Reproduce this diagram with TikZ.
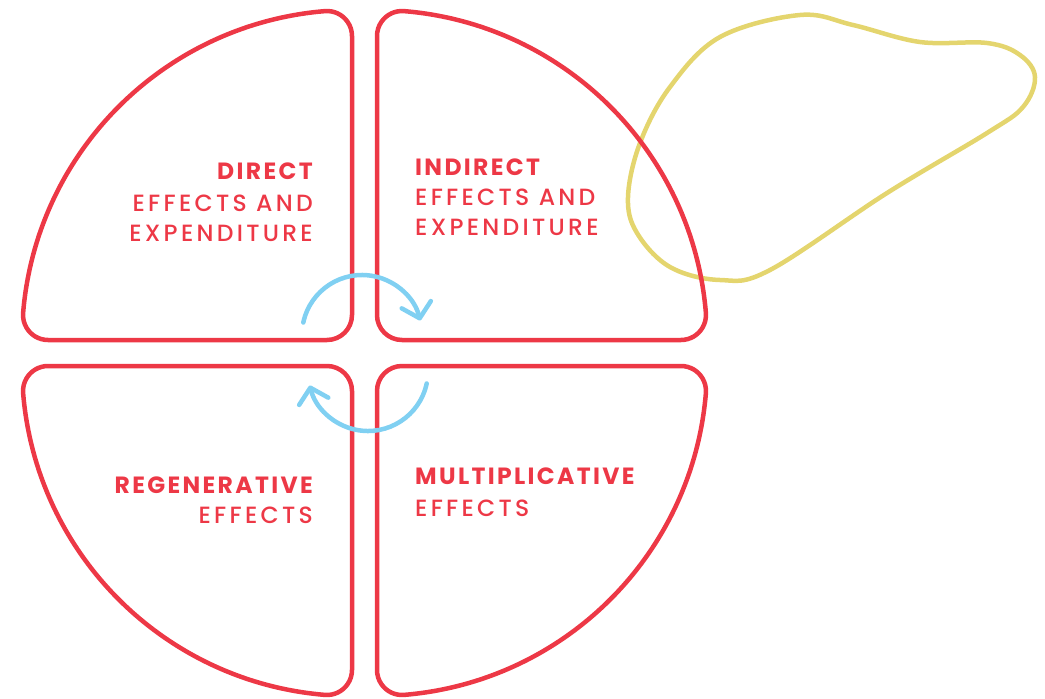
\documentclass[tikz,border=0pt]{standalone}
\usepackage{fontspec}
\setmainfont{Poppins}[UprightFont={* Medium}, BoldFont={* Bold},
  UprightFeatures={LetterSpace=14}, BoldFeatures={LetterSpace=10}]
\usetikzlibrary{arrows.meta}
\definecolor{qred}{RGB}{237,56,70}
\definecolor{qblue}{RGB}{128,208,242}
\definecolor{qyellow}{RGB}{228,213,110}
\tikzset{
  quad/.style={draw=qred, line width=4.5pt, line join=round},
  blob/.style={draw=qyellow, line width=4.5pt},
  cyc/.style={draw=qblue, line width=4.5pt, line cap=round,
    -{Straight Barb[round, length=14pt, width=30pt]}},
  lbl/.style={text=qred, inner sep=0pt, font=\fontsize{23.5}{28}\selectfont},
}
\newcommand{\quadpath}{%
  (-25,0) -- (-303.97,0)
  arc[start angle=90, end angle=184.70, radius=25]
  arc[start angle=184.70, end angle=265.30, radius=330]
  arc[start angle=265.30, end angle=360, radius=25]
  -- (0,-25)
  arc[start angle=0, end angle=90, radius=25] -- cycle}
\begin{document}
\begin{tikzpicture}[x=1pt, y=-1pt]
\useasboundingbox (0,0) rectangle (1045,699);
% yellow blob
\draw[blob] plot[smooth cycle, tension=0.6] coordinates {
  (628,197) (640,143) (670,87) (720,37) (800,15) (853,25) (920,42)
  (987,43) (1020,55) (1035,77) (1023,107) (987,133) (887,193)
  (770,270) (720,280) (670,267) (637,233)};
% four quadrants
\begin{scope}[shift={(352,340)}]
  \draw[quad] \quadpath;
\end{scope}
\begin{scope}[shift={(377,340)}, xscale=-1]
  \draw[quad] \quadpath;
\end{scope}
\begin{scope}[shift={(352,366)}, yscale=-1]
  \draw[quad] \quadpath;
\end{scope}
\begin{scope}[shift={(377,366)}, xscale=-1, yscale=-1]
  \draw[quad] \quadpath;
\end{scope}
% cycle arrows
\coordinate (t0) at (362,335);
\coordinate (b0) at (368,371);
\draw[cyc] (t0) ++(192:60) arc[start angle=192, end angle=346, radius=60];
\draw[cyc] (b0) ++(12:60) arc[start angle=12, end angle=166, radius=60];
% labels
\node[lbl, anchor=base east] (d1) at (313,179.5) {\bfseries DIRECT};
\node[lbl, anchor=base east] (d2) at (313,211) {EFFECTS AND};
\node[lbl, anchor=base east] (d3) at (313,241) {EXPENDITURE};
\node[lbl, anchor=base west] (i1) at (415,175) {\bfseries INDIRECT};
\node[lbl, anchor=base west] (i2) at (415,205.5) {EFFECTS AND};
\node[lbl, anchor=base west] (i3) at (415,235.5) {EXPENDITURE};
\node[lbl, anchor=base east] (r1) at (313,493.5) {\bfseries REGENERATIVE};
\node[lbl, anchor=base east] (r2) at (313,523.5) {EFFECTS};
\node[lbl, anchor=base west] (m1) at (415,484.5) {\bfseries MULTIPLICATIVE};
\node[lbl, anchor=base west] (m2) at (415,516) {EFFECTS};
\end{tikzpicture}
\end{document}
